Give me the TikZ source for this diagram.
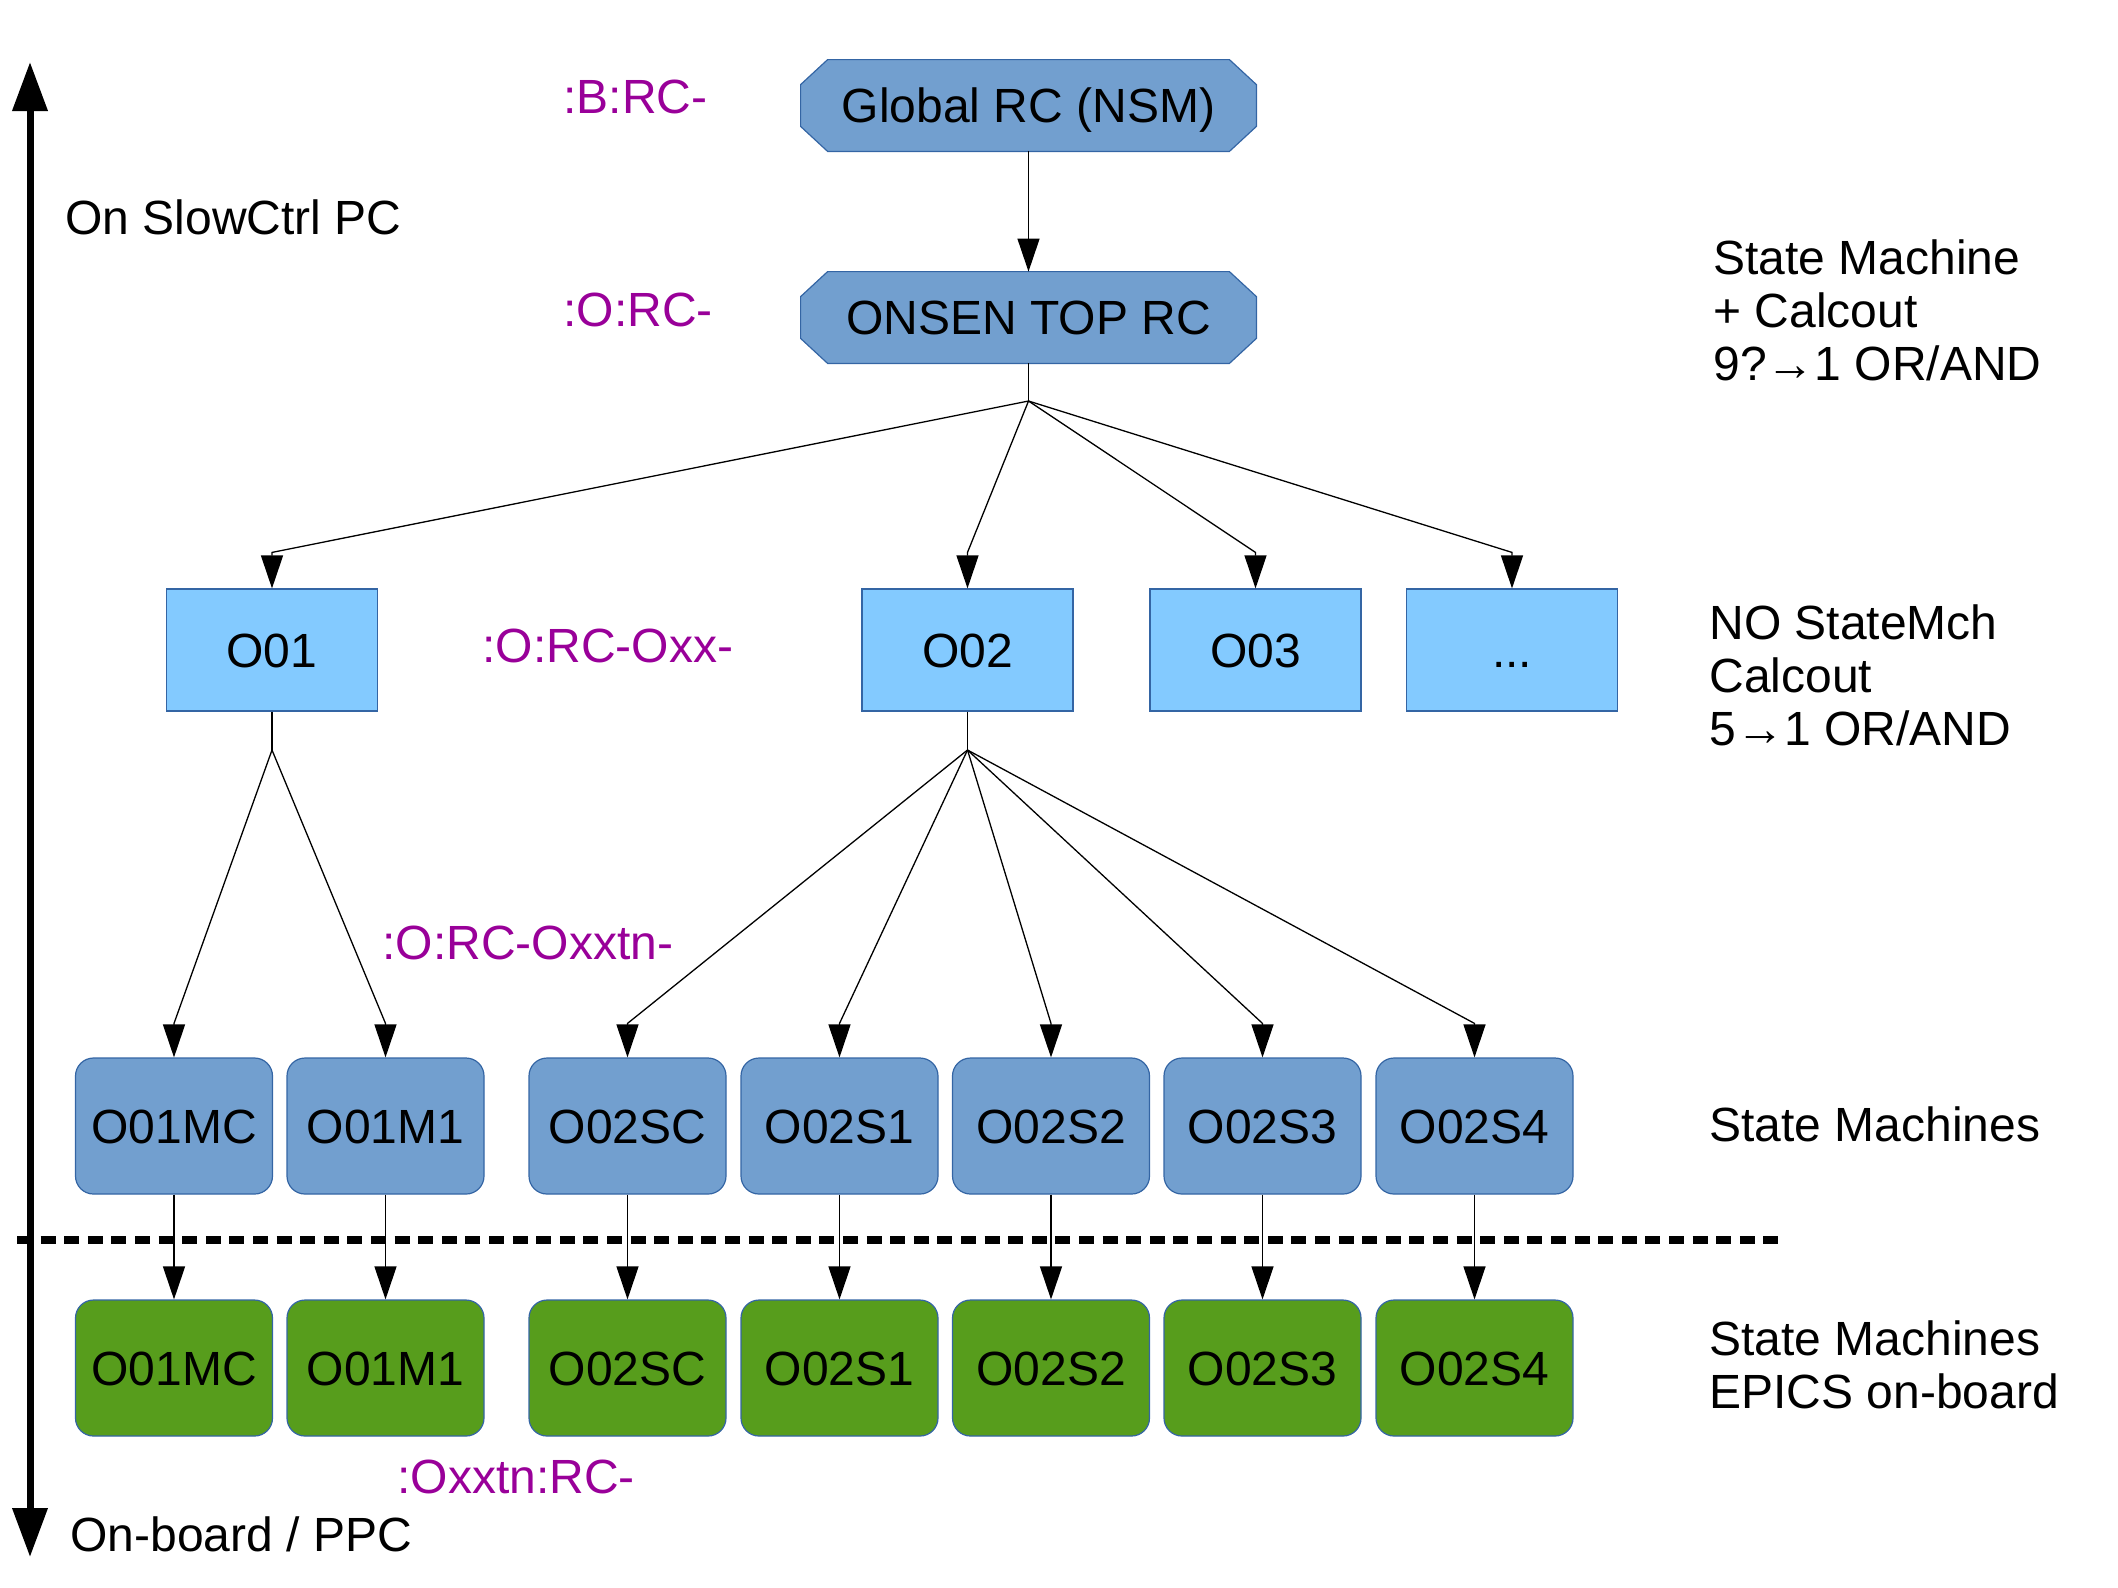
\documentclass[tikz,border=0pt]{standalone}
\usepackage{fontspec}
\setmainfont{Liberation Sans}
\usetikzlibrary{arrows.meta,calc,backgrounds}
\definecolor{skyblue}{HTML}{729FCF}
\definecolor{lightblue}{HTML}{83CAFF}
\definecolor{boxgreen}{HTML}{579D1C}
\definecolor{edgeblue}{HTML}{3465A4}
\definecolor{pvmag}{HTML}{990099}
\begin{document}
\begin{tikzpicture}[x=0.5pt,y=-0.5pt,
  every node/.style={font=\fontsize{24pt}{26.5pt}\selectfont, inner sep=0pt},
  octo/.style={fill=skyblue, draw=edgeblue, line width=0.6pt},
  octnode/.style={minimum width=227.5pt, minimum height=45.5pt, text height=17pt, text depth=0pt},
  nobox/.style={draw=edgeblue, fill=lightblue, line width=0.6pt, minimum width=105.5pt, minimum height=61pt, text height=17pt, text depth=0pt},
  smbox/.style={draw=edgeblue, fill=skyblue, line width=0.6pt, rounded corners=9pt, minimum width=98.5pt, minimum height=68pt, text height=17pt, text depth=0pt},
  epbox/.style={smbox, fill=boxgreen},
  wire/.style={line width=0.65pt},
  conn/.style={wire, -{Triangle[length=16.5pt,width=11pt]}},
  pv/.style={text=pvmag, anchor=base west},
  lbl/.style={anchor=base west, align=left},
]
\useasboundingbox (0,0) rectangle (2118,1587);

% top octagons
\node[octnode] (g) at (1028.5,105.5) {Global RC (NSM)};
\node[octnode] (o) at (1028.5,317.5) {ONSEN TOP RC};
\begin{scope}[on background layer]
\foreach \n in {g,o}{
  \draw[octo] ($(\n.north west)+(27,0)$) -- ($(\n.north east)+(-27,0)$) -- ($(\n.north east)+(0,25)$) -- ($(\n.south east)+(0,-25)$) -- ($(\n.south east)+(-27,0)$) -- ($(\n.south west)+(27,0)$) -- ($(\n.south west)+(0,-25)$) -- ($(\n.north west)+(0,25)$) -- cycle;
}
\end{scope}

% row 2
\node[nobox] (n1) at (272,650) {O01};
\node[nobox] (n2) at (967.5,650) {O02};
\node[nobox] (n3) at (1255.5,650) {O03};
\node[nobox] (n4) at (1512,650) {...};

% rows 3 and 4
\foreach \x/\t/\i in {174/O01MC/1, 385.5/O01M1/2, 627.5/O02SC/3, 839.5/O02S1/4, 1051/O02S2/5, 1262.5/O02S3/6, 1474.5/O02S4/7}{
  \node[smbox] (s\i) at (\x,1126) {\t};
  \node[epbox] (e\i) at (\x,1368) {\t};
}

% separator and axis
\coordinate (dl) at (17,1240);
\coordinate (dr) at (1786,1240);
\draw[line width=3.6pt, dash pattern=on 7.5pt off 4.3pt] (dl) -- (dr);
\coordinate (axtop) at (30,62);
\coordinate (axbot) at (30,1557);
\draw[line width=3.5pt, {Triangle[length=24.5pt,width=17pt]}-{Triangle[length=24.5pt,width=17pt]}] (axbot) -- (axtop);

% connectors
\draw[conn] (g.south) -- (o.north);
\coordinate (b1) at (1028.5,401);
\draw[wire] (o.south) -- (b1);
\foreach \n in {n1,n2,n3,n4} \draw[conn] (b1) -- ([yshift=18pt]\n.north) -- (\n.north);
\coordinate (b2) at (272,750);
\coordinate (b3) at (967.5,750);
\draw[wire] (n1.south) -- (b2);
\draw[wire] (n2.south) -- (b3);
\foreach \n in {s1,s2} \draw[conn] (b2) -- ([yshift=17pt]\n.north) -- (\n.north);
\foreach \n in {s3,s4,s5,s6,s7} \draw[conn] (b3) -- ([yshift=17pt]\n.north) -- (\n.north);
\foreach \i in {1,...,7} \draw[conn] (s\i.south) -- (e\i.north);

% texts
\node[anchor=base west] (t1) at (65,234) {On SlowCtrl PC};
\node[anchor=base west] (t2) at (70,1551) {On-board / PPC};
\node[pv] (p1) at (563,113) {:B:RC-};
\node[pv] (p2) at (563,326) {:O:RC-};
\node[pv] (p3) at (482,662) {:O:RC-Oxx-};
\node[pv] (p4) at (382,959) {:O:RC-Oxxtn-};
\node[pv] (p5) at (397,1493) {:Oxxtn:RC-};
\node[lbl] (r1) at (1713,380) {State Machine\\+ Calcout\\9?→1 OR/AND};
\node[lbl] (r2) at (1709,745) {NO StateMch\\Calcout\\5→1 OR/AND};
\node[lbl] (r3) at (1709,1141) {State Machines};
\node[lbl] (r4) at (1709,1408) {State Machines\\EPICS on-board};
\end{tikzpicture}
\end{document}
